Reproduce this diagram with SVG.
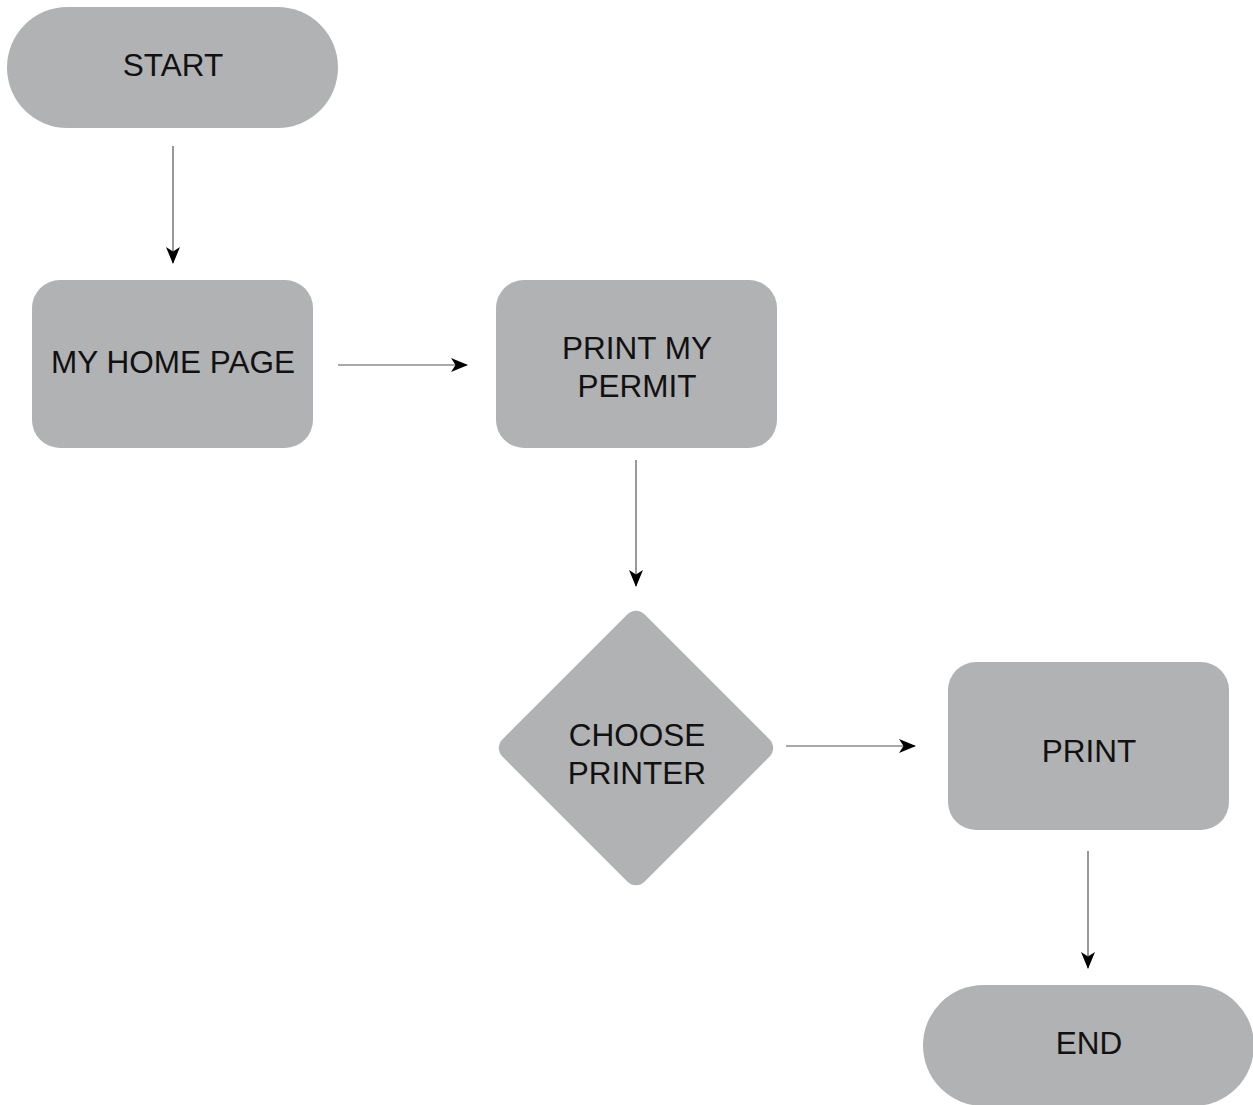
<svg xmlns="http://www.w3.org/2000/svg" width="1253" height="1105" viewBox="0 0 1253 1105">
<style>
.n{fill:#b1b2b4}
.t{font-family:"Liberation Sans",Arial,sans-serif;font-size:31.5px;fill:#111;text-anchor:middle}
.c{stroke:#555;stroke-width:1.2;fill:none;marker-end:url(#ah)}
</style>
<defs>
<marker id="ah" viewBox="0 0 17 14" refX="16" refY="7" markerWidth="17" markerHeight="14" markerUnits="userSpaceOnUse" orient="auto">
<path d="M0,0 L17,7 L0,14 L4.5,7 Z" fill="#000"/>
</marker>
</defs>
<rect width="1253" height="1105" fill="#fff"/>
<g id="start"><rect class="n" x="7" y="7" width="331" height="121" rx="60.5"/><text class="t" x="173" y="76">START</text></g>
<g id="home"><rect class="n" x="32" y="280" width="281" height="168" rx="28"/><text class="t" x="173" y="373">MY HOME PAGE</text></g>
<g id="permit"><rect class="n" x="496" y="280" width="281" height="168" rx="28"/><text class="t" x="637" y="359">PRINT MY</text><text class="t" x="637" y="397">PERMIT</text></g>
<g id="choose"><rect class="n" x="-100.5" y="-100.5" width="201" height="201" rx="12" transform="translate(636,748) rotate(45)"/><text class="t" x="637" y="746">CHOOSE</text><text class="t" x="637" y="784">PRINTER</text></g>
<g id="print"><rect class="n" x="948" y="662" width="281" height="168" rx="28"/><text class="t" x="1089" y="762">PRINT</text></g>
<g id="end"><rect class="n" x="923" y="985" width="331" height="121" rx="60.5"/><text class="t" x="1089" y="1054">END</text></g>
<g id="connectors">
<line class="c" x1="173" y1="146" x2="173" y2="263"/>
<line class="c" x1="338" y1="365" x2="467" y2="365"/>
<line class="c" x1="636" y1="460" x2="636" y2="586"/>
<line class="c" x1="786" y1="746" x2="915" y2="746"/>
<line class="c" x1="1088" y1="851" x2="1088" y2="968"/>
</g>
</svg>
